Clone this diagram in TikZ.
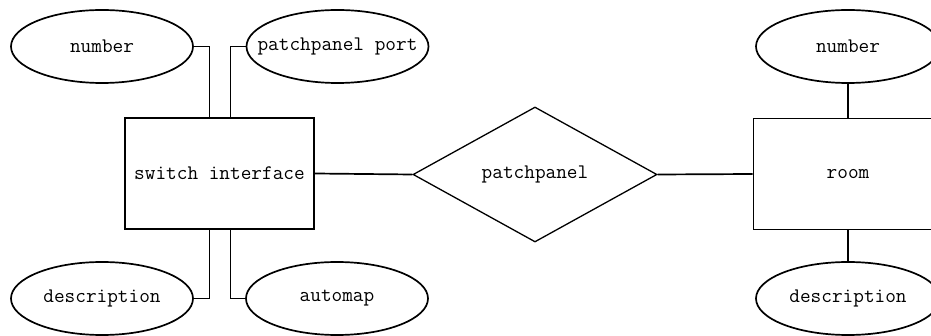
\documentclass[tikz,border=0pt]{standalone}
\usetikzlibrary{shapes.geometric}
\begin{document}
\begin{tikzpicture}[x=1pt,y=-1pt,
  every node/.style={font=\ttfamily\fontsize{20.7pt}{23pt}\selectfont},
  attr/.style={draw,ellipse,line width=1.7pt,minimum width=182pt,minimum height=73pt,inner sep=0pt},
  entity/.style={draw,rectangle,line width=1.7pt,minimum width=189pt,minimum height=111pt,inner sep=0pt},
  rel/.style={draw,diamond,line width=1.3pt,aspect=1.8,minimum width=244pt,minimum height=135pt,inner sep=0pt},
  conn/.style={line width=1.7pt}]
\useasboundingbox (0,0) rectangle (931,336);
\clip (0,0) rectangle (931,336);
\node[entity] (sw) at (219.5,173.5) {\makebox[0pt]{switch interface}};
\node[attr] (num1) at (102,46.5) {\makebox[0pt]{number}};
\node[attr] (port) at (337.5,46.5) {\makebox[0pt]{patchpanel port}};
\node[attr] (desc1) at (102,298.5) {\makebox[0pt]{description}};
\node[attr] (auto) at (337,298.5) {\makebox[0pt]{automap}};
\node[rel] (pp) at (535,174.5) {\makebox[0pt]{patchpanel}};
\node[entity] (room) at (848,174) {\makebox[0pt]{room}};
\node[attr,minimum width=184pt] (num2) at (848,46.5) {\makebox[0pt]{number}};
\node[attr,minimum width=184pt] (desc2) at (848,298.5) {\makebox[0pt]{description}};
\draw[conn] (num1.east) -| ([xshift=-10pt]sw.north);
\draw[conn] (port.west) -| ([xshift=11pt]sw.north);
\draw[conn] (desc1.east) -| ([xshift=-10pt]sw.south);
\draw[conn] (auto.west) -| ([xshift=11pt]sw.south);
\draw[conn] (sw.east) -- (pp.west);
\draw[conn] (pp.east) -- (room.west);
\draw[conn] (num2.south) -- (room.north);
\draw[conn] (room.south) -- (desc2.north);
\end{tikzpicture}
\end{document}
